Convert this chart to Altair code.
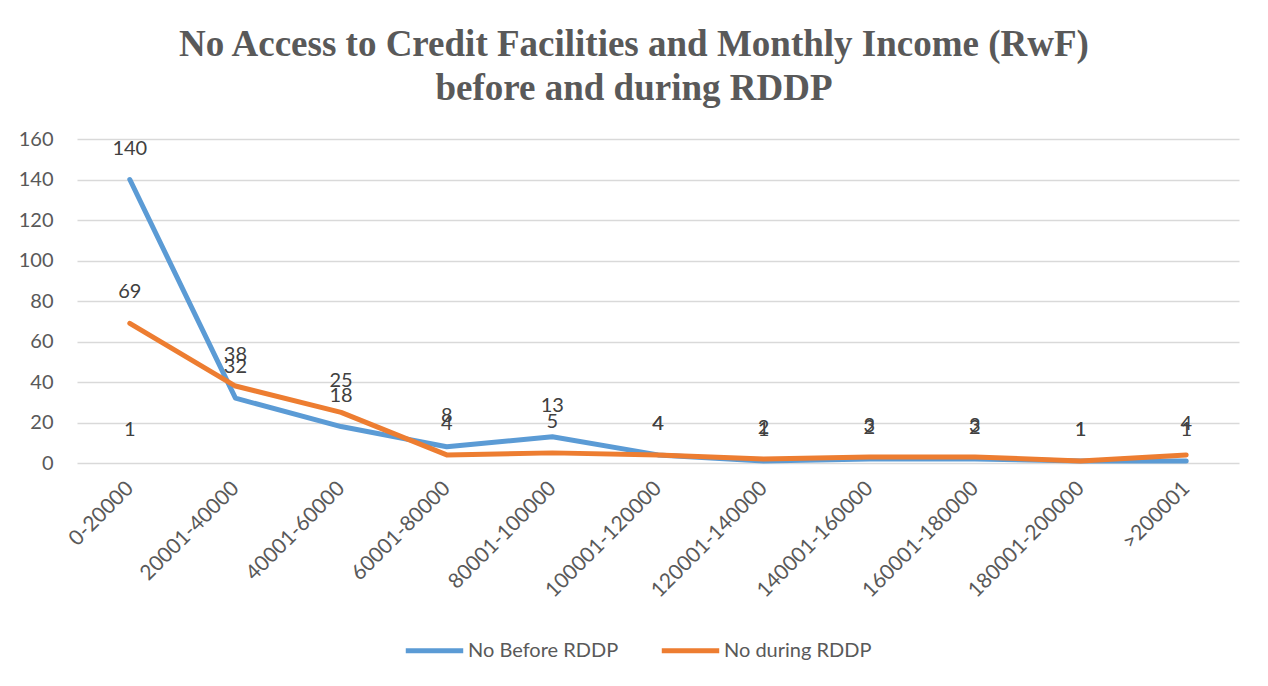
import altair as alt
import pandas as pd

categories = ["0-20000", "20001-40000", "40001-60000", "60001-80000", "80001-100000",
              "100001-120000", "120001-140000", "140001-160000", "160001-180000",
              "180001-200000", ">200001"]
before = [140, 32, 18, 8, 13, 4, 1, 2, 2, 1, 1]
during = [69, 38, 25, 4, 5, 4, 2, 3, 3, 1, 4]
series_names = ["No Before RDDP", "No during RDDP"]
series_colors = ["#5B9BD5", "#ED7D31"]
# a stray data label that appears in the original without a line
stray_categories = ["0-20000"]
stray_values = [1]

title_lines = ["No Access to Credit Facilities and Monthly Income (RwF)",
               "before and during RDDP"]
y_ticks = [0, 20, 40, 60, 80, 100, 120, 140, 160]

rows = []
for name, vals in zip(series_names, [before, during]):
    for c, v in zip(categories, vals):
        rows.append({"cat": c, "value": v, "series": name})
df = pd.DataFrame(rows)
stray = pd.DataFrame({"cat": stray_categories, "value": stray_values})

LABEL_FONT = "Lato"
GRAY = "#595959"

x = alt.X("cat:N", sort=categories,
          scale=alt.Scale(type="point", padding=0.5),
          axis=alt.Axis(title=None, labelAngle=-45, labelAlign="right",
                        labelBaseline="middle", labelPadding=22,
                        domain=False, ticks=False, grid=False,
                        labelFont=LABEL_FONT, labelFontSize=21,
                        labelColor=GRAY, labelOverlap=False))
y = alt.Y("value:Q", scale=alt.Scale(domain=[0, 160], nice=False),
          axis=alt.Axis(title=None, values=y_ticks, domain=False, ticks=False,
                        grid=True, gridColor="#D9D9D9", gridWidth=1.5,
                        labelFont=LABEL_FONT, labelFontSize=20, labelColor=GRAY,
                        labelPadding=24))

color = alt.Color("series:N",
                  scale=alt.Scale(domain=series_names, range=series_colors),
                  legend=alt.Legend(orient="none", legendX=326, legendY=480,
                                    direction="horizontal", title=None,
                                    symbolType="stroke", symbolSize=3300,
                                    symbolStrokeWidth=5,
                                    labelFont=LABEL_FONT, labelFontSize=20,
                                    labelColor=GRAY, columnPadding=32,
                                    labelOffset=2))

base = alt.Chart(df)
lines = base.mark_line(strokeWidth=5, strokeCap="round", strokeJoin="round").encode(
    x=x, y=y, color=color)
labels = base.mark_text(dy=-31, font=LABEL_FONT, fontSize=20, color="#404040").encode(
    x=alt.X("cat:N", sort=categories), y="value:Q", text="value:Q")
stray_labels = alt.Chart(stray).mark_text(dy=-31, font=LABEL_FONT, fontSize=20,
                                          color="#404040").encode(
    x=alt.X("cat:N", sort=categories), y="value:Q", text="value:Q")

chart = alt.layer(lines, labels, stray_labels).properties(
    width=1162, height=324,
    title=alt.Title(title_lines, font="Liberation Serif", fontSize=37,
                    fontWeight="bold", color=GRAY, lineHeight=44,
                    anchor="middle", dx=-24, offset=21),
    autosize=alt.AutoSizeParams(type="none"),
    padding={"left": 69, "top": 131, "right": 13, "bottom": 215},
).configure_view(stroke=None)

chart.save("out.html", embed_options={"renderer": "svg", "actions": False})
